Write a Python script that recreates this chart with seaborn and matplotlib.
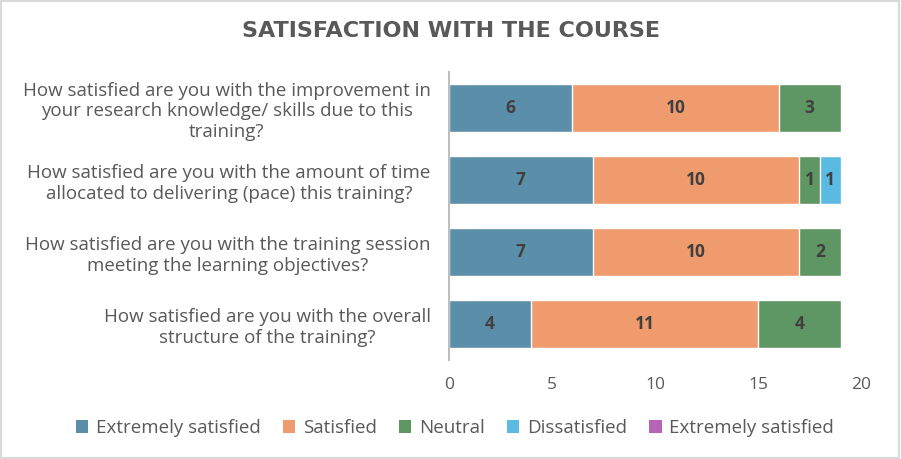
import matplotlib
matplotlib.use("Agg")
import matplotlib.pyplot as plt
import seaborn as sns
import pandas as pd
import numpy as np
from matplotlib.patches import Patch, Rectangle

questions = [
    "How satisfied are you with the improvement in\nyour research knowledge/ skills due to this\ntraining?",
    "How satisfied are you with the amount of time\nallocated to delivering (pace) this training?",
    "How satisfied are you with the training session\nmeeting the learning objectives?",
    "How satisfied are you with the overall\nstructure of the training?",
]
series_names = ["Extremely satisfied", "Satisfied", "Neutral", "Dissatisfied", "Extremely satisfied"]
extremely_satisfied = [6, 7, 7, 4]
satisfied = [10, 10, 10, 11]
neutral = [3, 1, 2, 4]
dissatisfied = [0, 1, 0, 0]
extremely_dissatisfied = [0, 0, 0, 0]
colors = ["#5B8EA8", "#F09B6E", "#5E9664", "#5BBAE2", "#B864B6"]

values = [extremely_satisfied, satisfied, neutral, dissatisfied, extremely_dissatisfied]

sns.set_theme(style="white")
plt.rcParams['font.family'] = ['Open Sans', 'DejaVu Sans']

fig = plt.figure(figsize=(9.01, 4.59), dpi=100)
ax = fig.add_axes([0.498, 0.216, 0.458, 0.627])

cum = np.cumsum(np.array(values), axis=0)
for i in range(len(series_names) - 1, -1, -1):
    df = pd.DataFrame({"q": questions, "x": cum[i]})
    sns.barplot(data=df, x="x", y="q", color=colors[i], orient="h", width=0.66,
                saturation=1, ax=ax, order=questions)

# labels
for i in range(len(series_names)):
    for j, q in enumerate(questions):
        v = values[i][j]
        if v > 0:
            start = cum[i][j] - v
            ax.text(start + v / 2, j, str(v), ha="center", va="center",
                    fontsize=12.5, fontweight="bold", color="#404040")

ax.set_xlim(0, 20)
ax.set_ylim(3.5, -0.5)
ax.set_xticks([0, 5, 10, 15, 20])
ax.set_xlabel("")
ax.set_ylabel("")
ax.tick_params(axis="x", labelsize=12.5, colors="#595959", length=0, pad=12)
ax.tick_params(axis="y", labelsize=13.5, colors="#595959", length=0, pad=13)
for lbl in ax.get_yticklabels():
    lbl.set_horizontalalignment("right")
    lbl.set_multialignment("center")
    lbl.set_linespacing(1.2)
for s in ["top", "right", "bottom"]:
    ax.spines[s].set_visible(False)
ax.spines["left"].set_color("#BFBFBF")
ax.spines["left"].set_linewidth(1.5)

fig.suptitle("SATISFACTION WITH THE COURSE", x=0.5, y=0.955, fontsize=16,
             fontweight="bold", color="#595959", family=["DejaVu Sans"])

handles = [Patch(facecolor=c, edgecolor="none") for c in colors]
fig.legend(handles, series_names,
           loc="center", bbox_to_anchor=(0.505, 0.067), ncol=5, frameon=False,
           prop={"family": ["Open Sans", "DejaVu Sans"], "size": 13.5},
           handlelength=0.65, handleheight=0.65, handletextpad=0.4,
           columnspacing=1.2, labelcolor="#595959")

fig.patches.append(Rectangle((0.001, 0.002), 0.997, 0.995, transform=fig.transFigure,
                             fill=False, edgecolor="#D9D9D9", linewidth=1.5))

fig.savefig("out.png", dpi=100)
